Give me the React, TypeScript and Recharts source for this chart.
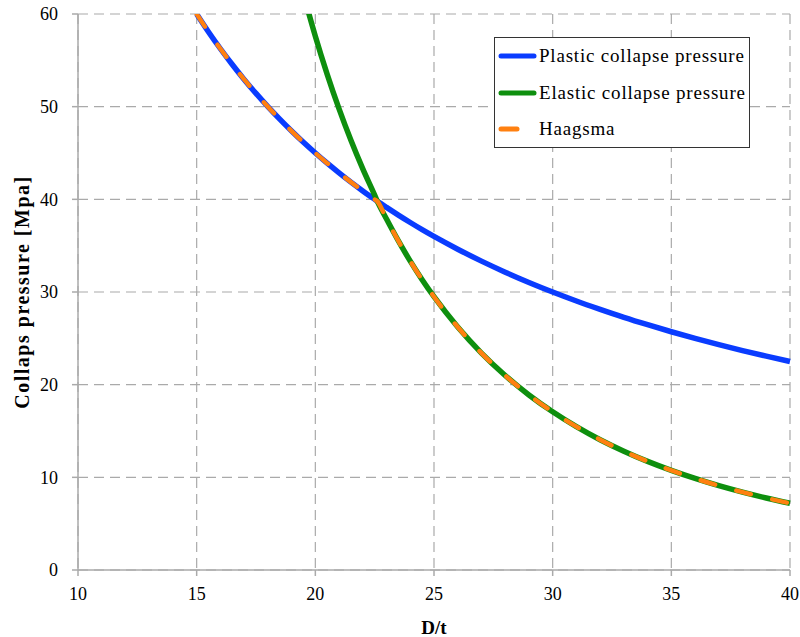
import { LineChart, Line, XAxis, YAxis, CartesianGrid, Label } from 'recharts'

// D/t values
const dt = [15, 15.5, 16, 16.5, 17, 17.5, 18, 18.5, 19, 19.5, 20, 20.5, 21, 21.5, 22, 22.5, 22.6, 23, 23.5, 24, 24.5, 25, 26, 27, 28, 29, 30, 31, 32, 33, 34, 35, 36, 37, 38, 39, 40]

const plastic = [60, 58.06, 56.25, 54.55, 52.94, 51.43, 50, 48.65, 47.37, 46.15, 45, 43.9, 42.86, 41.86, 40.91, 40, 39.82, 39.13, 38.3, 37.5, 36.73, 36, 34.62, 33.33, 32.14, 31.03, 30, 29.03, 28.13, 27.27, 26.47, 25.71, 25, 24.32, 23.68, 23.08, 22.5]

const elastic = [null, null, null, null, null, null, null, null, null, 62.15, 57.6, 53.49, 49.76, 46.37, 43.28, 40.45, 39.86, 37.87, 35.51, 33.33, 31.33, 29.49, 26.22, 23.41, 20.99, 18.89, 17.07, 15.47, 14.06, 12.82, 11.72, 10.75, 9.88, 9.1, 8.4, 7.77, 7.2]

const haagsma = [60, 58.06, 56.25, 54.55, 52.94, 51.43, 50, 48.65, 47.37, 46.15, 45, 43.9, 42.86, 41.86, 40.91, 40, 39.82, 37.87, 35.51, 33.33, 31.33, 29.49, 26.22, 23.41, 20.99, 18.89, 17.07, 15.47, 14.06, 12.82, 11.72, 10.75, 9.88, 9.1, 8.4, 7.77, 7.2]

const xTicks = [10, 15, 20, 25, 30, 35, 40]
const yTicks = [0, 10, 20, 30, 40, 50, 60]

const data = dt.map((x, i) => ({ x, plastic: plastic[i], elastic: elastic[i], haagsma: haagsma[i] }))

const FONT = '"Liberation Serif", serif'
const BLUE = '#0a3cff'
const GREEN = '#0e8f0e'
const ORANGE = '#ff8010'

const legendItems = [
  { name: 'Plastic collapse pressure', color: BLUE, short: false },
  { name: 'Elastic collapse pressure', color: GREEN, short: false },
  { name: 'Haagsma', color: ORANGE, short: true },
]

// legend drawn as an overlay box inside the plot
function LegendBox() {
  return (
    <div style={{ position: 'absolute', left: 494, top: 37, width: 256, height: 111, boxSizing: 'border-box', border: '1px solid #333', background: '#fff', fontFamily: FONT, fontSize: 19, letterSpacing: 0.8 }}>
      {legendItems.map((it, i) => (
        <div key={it.name} style={{ position: 'absolute', left: 0, top: 7 + i * 36.5, height: 22, display: 'flex', alignItems: 'center' }}>
          <svg width={44} height={10} style={{ display: 'block' }}>
            <line x1={6} y1={5} x2={it.short ? 22 : 39} y2={5} stroke={it.color} strokeWidth={5} strokeLinecap="round" />
          </svg>
          <span style={{ color: '#000', whiteSpace: 'nowrap' }}>{it.name}</span>
        </div>
      ))}
    </div>
  )
}

export default function App() {
  return (
    <div style={{ position: 'absolute', left: 0, top: 0, width: 800, height: 637, background: '#fff' }}>
      <LineChart width={800} height={637} data={data} margin={{ top: 14, right: 10, left: 38, bottom: 37 }}>
        <CartesianGrid stroke="#aaa" strokeDasharray="10 6" strokeWidth={1.2} />
        <XAxis
          dataKey="x"
          type="number"
          domain={[10, 40]}
          ticks={xTicks}
          stroke="#aaa"
          strokeWidth={1.5}
          tickSize={6}
          height={30}
          tick={{ fill: '#000', fontFamily: FONT, fontSize: 18 }}
          tickMargin={11}
        >
          <Label value="D/t" position="insideBottom" offset={-34} style={{ fontFamily: FONT, fontSize: 19, fontWeight: 'bold', fill: '#000' }} />
        </XAxis>
        <YAxis
          type="number"
          domain={[0, 60]}
          ticks={yTicks}
          allowDataOverflow
          stroke="#aaa"
          strokeWidth={1.5}
          tickSize={6}
          width={40}
          tick={{ fill: '#000', fontFamily: FONT, fontSize: 18 }}
          tickMargin={14}
        >
          <Label value="Collaps pressure [Mpa]" angle={-90} position="insideLeft" offset={-16} style={{ textAnchor: 'middle', fontFamily: FONT, fontSize: 20, fontWeight: 'bold', letterSpacing: 1.5, fill: '#000' }} />
        </YAxis>
        <Line type="monotone" dataKey="plastic" stroke={BLUE} strokeWidth={5.5} dot={false} isAnimationActive={false} />
        <Line type="monotone" dataKey="elastic" stroke={GREEN} strokeWidth={5.5} dot={false} isAnimationActive={false} />
        <Line type="monotone" dataKey="haagsma" stroke={ORANGE} strokeWidth={4.5} strokeDasharray="15 22" strokeLinecap="round" dot={false} isAnimationActive={false} />
      </LineChart>
      <LegendBox />
    </div>
  )
}
